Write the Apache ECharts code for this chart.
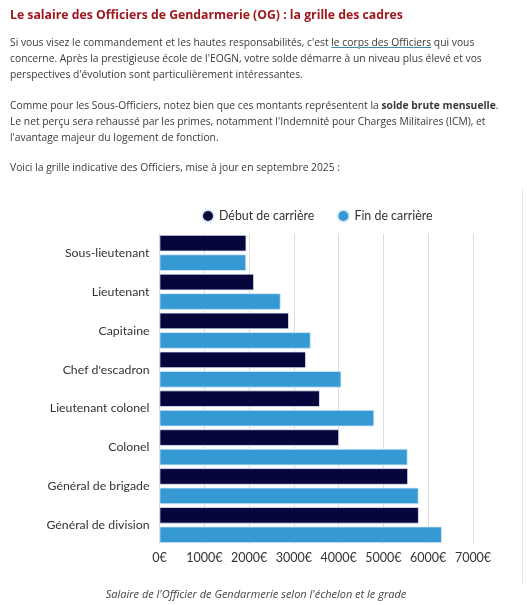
<!DOCTYPE html>
<html>
<head>
<meta charset="utf-8">
<script src="https://cdn.jsdelivr.net/npm/echarts@6/dist/echarts.min.js"></script>
<style>
  html, body { margin:0; padding:0; background:#fff; }
  body { width:527px; height:605px; position:relative; overflow:hidden; font-family:"Open Sans", sans-serif; }
  #chart { position:absolute; left:0; top:0; width:527px; height:605px; }
  .t { position:absolute; left:10px; white-space:nowrap; color:#3a3a3a; font-size:10.3px; line-height:16.3px; z-index:2; }
  .title { position:absolute; left:10px; top:6px; white-space:nowrap; color:#a0181d; font-size:12.25px; font-weight:700; line-height:18px; z-index:2; }
  .t a { color:#3a3a3a; text-decoration:underline; text-decoration-color:#3b8fa3; }
  .cap { position:absolute; left:0; width:512px; top:587px; text-align:center; font-style:italic; color:#444; font-size:11px; line-height:14px; z-index:2; }
  .vline { position:absolute; left:522px; top:190px; width:1px; height:393px; background:#e6e6e6; z-index:2; }
</style>
</head>
<body>
<div class="title">Le salaire des Officiers de Gendarmerie (OG) : la grille des cadres</div>
<div class="t" style="top:33.5px">Si vous visez le commandement et les hautes responsabilités, c'est <a>le corps des Officiers</a> qui vous<br>concerne. Après la prestigieuse école de l'EOGN, votre solde démarre à un niveau plus élevé et vos<br>perspectives d'évolution sont particulièrement intéressantes.</div>
<div class="t" style="top:96.9px">Comme pour les Sous-Officiers, notez bien que ces montants représentent la <b>solde brute mensuelle</b>.<br>Le net perçu sera rehaussé par les primes, notamment l'Indemnité pour Charges Militaires (ICM), et<br>l'avantage majeur du logement de fonction.</div>
<div class="t" style="top:158.5px">Voici la grille indicative des Officiers, mise à jour en septembre 2025 :</div>
<div class="vline"></div>
<div id="chart"></div>
<div class="cap">Salaire de l'Officier de Gendarmerie selon l'échelon et le grade</div>
<script>
const categories = ["Sous-lieutenant","Lieutenant","Capitaine","Chef d'escadron","Lieutenant colonel","Colonel","Général de brigade","Général de division"];
const seriesNames = ["Début de carrière","Fin de carrière"];
const debut = [1940, 2110, 2890, 3270, 3580, 4010, 5550, 5790];
const fin = [1935, 2705, 3375, 4060, 4795, 5540, 5785, 6305];
const xTicks = { min: 0, max: 7000, interval: 1000 };

const chart = echarts.init(document.getElementById('chart'), null, { renderer: 'canvas' });
const font = 'Lato';
chart.setOption({
  animation: false,
  color: ['#06063c', '#3599d3'],
  legend: {
    left: 196, top: 204,
    icon: 'circle', itemWidth: 12, itemHeight: 12, itemGap: 22,
    textStyle: { fontFamily: font, fontSize: 12.4, color: '#333' },
    data: seriesNames
  },
  grid: { left: 159.5, right: 54, top: 233.5, height: 311, containLabel: false },
  xAxis: {
    type: 'value', min: xTicks.min, max: xTicks.max, interval: xTicks.interval,
    axisLine: { show: false }, axisTick: { show: false },
    splitLine: { lineStyle: { color: '#dcdcdc', width: 1 } },
    axisLabel: { formatter: function (v) { return String(v) + '€'; }, fontFamily: font, fontSize: 12.5, color: '#333', margin: 7 }
  },
  yAxis: {
    type: 'category', data: categories, inverse: true,
    axisLine: { show: false }, axisTick: { show: false },
    axisLabel: { fontFamily: font, fontSize: 12.3, color: '#333', margin: 10 }
  },
  series: [
    { name: seriesNames[0], type: 'bar', data: debut, barWidth: 16.5, barGap: '18%',
      itemStyle: { borderColor: '#dcecf7', borderWidth: 0.8 } },
    { name: seriesNames[1], type: 'bar', data: fin, barWidth: 16.5, barGap: '18%',
      itemStyle: { borderColor: '#dcecf7', borderWidth: 0.8 } }
  ]
});
</script>
</body>
</html>
